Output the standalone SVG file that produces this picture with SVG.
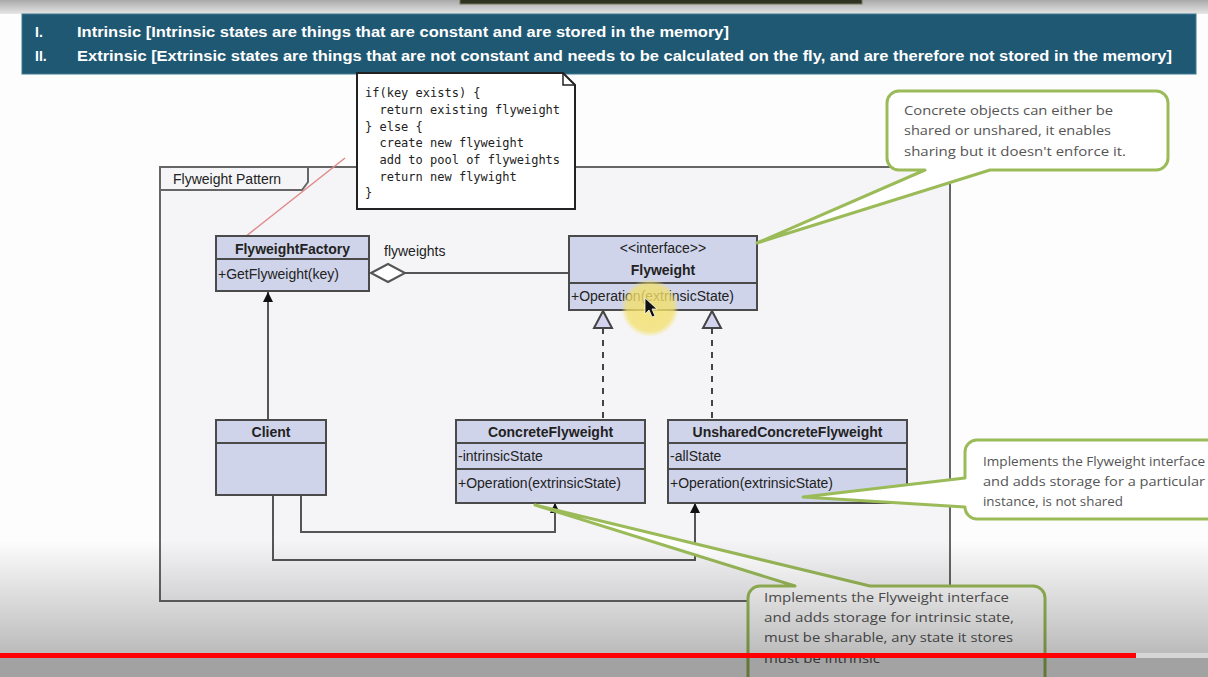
<svg xmlns="http://www.w3.org/2000/svg" width="1208" height="677" viewBox="0 0 1208 677">
<defs>
<linearGradient id="topg" x1="0" y1="0" x2="0" y2="1"><stop offset="0" stop-color="#a9a9a9"/><stop offset="1" stop-color="#e6e6e6"/></linearGradient>
<linearGradient id="botg" x1="0" y1="0" x2="0" y2="1"><stop offset="0" stop-color="#000" stop-opacity="0"/><stop offset="1" stop-color="#000" stop-opacity="0.26"/></linearGradient>
<radialGradient id="halo"><stop offset="0" stop-color="#f3e06a" stop-opacity="0.85"/><stop offset="0.8" stop-color="#f3e06a" stop-opacity="0.75"/><stop offset="1" stop-color="#f3e06a" stop-opacity="0"/></radialGradient>
<marker id="arr" viewBox="0 0 10 10" refX="10" refY="5" markerWidth="10" markerHeight="10" markerUnits="userSpaceOnUse" orient="auto"><path d="M0,0 L10,5 L0,10 Z" fill="#111"/></marker>
<style>
.cls{fill:#d0d4ea;stroke:#4a4a4a;stroke-width:2}
.div{stroke:#4a4a4a;stroke-width:2}
.t{font-family:"Liberation Sans",Arial,sans-serif;font-size:14px;fill:#222}
.b{font-weight:bold}
.mid{text-anchor:middle}
.con{fill:none;stroke:#555;stroke-width:2}
.mono{font-family:"DejaVu Sans Mono","Liberation Mono",monospace;font-size:12px;fill:#222;white-space:pre}
.call{fill:#fff;stroke:#9bbb59;stroke-width:3;stroke-linejoin:round}
.ct{font-family:"Open Sans","Noto Sans",sans-serif;font-size:13px;fill:#555}
.ban{font-family:"Liberation Sans",Arial,sans-serif;font-size:14px;font-weight:bold;fill:#fff}
</style>
</defs>
<rect x="0" y="0" width="1208" height="677" fill="#fdfdfd"/>
<rect x="0" y="0" width="1208" height="14" fill="url(#topg)"/>
<rect x="460" y="-2" width="402" height="6" fill="#2f3322" stroke="#77775a" stroke-width="1"/>
<g id="banner">
<rect x="22" y="14" width="1174" height="60" fill="#1f5873" stroke="#3f7890" stroke-width="1"/>
<text class="ban" x="35" y="37">I.</text>
<text class="ban" x="77" y="37" textLength="652" lengthAdjust="spacingAndGlyphs">Intrinsic [Intrinsic states are things that are constant and are stored in the memory]</text>
<text class="ban" x="35" y="61">II.</text>
<text class="ban" x="77" y="61" textLength="1095" lengthAdjust="spacingAndGlyphs">Extrinsic [Extrinsic states are things that are not constant and needs to be calculated on the fly, and are therefore not stored in the memory]</text>
</g>
<g id="package">
<path d="M308,167 H950 V601 H160 V167 H308 Z" fill="#f5f5f7" stroke="#666" stroke-width="2"/>
<path d="M160,190 H302 L308,182 V167" fill="none" stroke="#666" stroke-width="2"/>
<text class="t" x="173" y="184">Flyweight Pattern</text>
</g>
<g id="note">
<polygon points="357,73 563,73 575,85 575,209 357,209" fill="#fff" stroke="#222" stroke-width="2"/>
<polyline points="563,73 563,85 575,85" fill="none" stroke="#222" stroke-width="1.5"/>
<text class="mono" x="365" y="97" xml:space="preserve">if(key exists) {</text>
<text class="mono" x="365" y="114" xml:space="preserve">  return existing flyweight</text>
<text class="mono" x="365" y="131" xml:space="preserve">} else {</text>
<text class="mono" x="365" y="147" xml:space="preserve">  create new flyweight</text>
<text class="mono" x="365" y="164" xml:space="preserve">  add to pool of flyweights</text>
<text class="mono" x="365" y="181" xml:space="preserve">  return new flywight</text>
<text class="mono" x="365" y="197" xml:space="preserve">}</text>
</g>
<g id="connectors">
<line x1="245" y1="237" x2="345" y2="158" stroke="#e08a8a" stroke-width="1.5"/>
<polygon points="371,273 388,264 405,273 388,282" fill="#fff" stroke="#555" stroke-width="2"/>
<line class="con" x1="405" y1="273" x2="569" y2="273"/>
<text class="t" x="384" y="256">flyweights</text>
<line class="con" x1="268" y1="420" x2="268" y2="292" marker-end="url(#arr)"/>
<polyline class="con" points="301,495 301,532 555,532 555,503" marker-end="url(#arr)"/>
<polyline class="con" points="273,495 273,560 695,560 695,503" marker-end="url(#arr)"/>
<line x1="603" y1="328" x2="603" y2="420" stroke="#444" stroke-width="2" stroke-dasharray="6,6"/>
<line x1="712" y1="328" x2="712" y2="420" stroke="#444" stroke-width="2" stroke-dasharray="6,6"/>
<polygon points="603,311 594,328 612,328" fill="#d3d3f0" stroke="#444" stroke-width="2"/>
<polygon points="712,311 703,328 721,328" fill="#d3d3f0" stroke="#444" stroke-width="2"/>
</g>
<g id="FlyweightFactory">
<rect class="cls" x="216" y="236" width="153" height="55"/>
<line class="div" x1="216" y1="259" x2="369" y2="259"/>
<text class="t b mid" x="292.5" y="254">FlyweightFactory</text>
<text class="t" x="218" y="279">+GetFlyweight(key)</text>
</g>
<g id="Flyweight">
<rect class="cls" x="569" y="236" width="188" height="74"/>
<line class="div" x1="569" y1="283" x2="757" y2="283"/>
<text class="t mid" x="663" y="253" font-size="13">&lt;&lt;interface&gt;&gt;</text>
<text class="t b mid" x="663" y="275">Flyweight</text>
<text class="t" x="571" y="301">+Operation(extrinsicState)</text>
</g>
<g id="Client">
<rect class="cls" x="216" y="420" width="110" height="75"/>
<line class="div" x1="216" y1="443" x2="326" y2="443"/>
<text class="t b mid" x="271" y="437">Client</text>
</g>
<g id="ConcreteFlyweight">
<rect class="cls" x="456" y="420" width="189" height="83"/>
<line class="div" x1="456" y1="443" x2="645" y2="443"/>
<line class="div" x1="456" y1="469" x2="645" y2="469"/>
<text class="t b mid" x="550.5" y="437">ConcreteFlyweight</text>
<text class="t" x="458" y="461">-intrinsicState</text>
<text class="t" x="458" y="488">+Operation(extrinsicState)</text>
</g>
<g id="UnsharedConcreteFlyweight">
<rect class="cls" x="668" y="420" width="239" height="83"/>
<line class="div" x1="668" y1="443" x2="907" y2="443"/>
<line class="div" x1="668" y1="469" x2="907" y2="469"/>
<text class="t b mid" x="787.5" y="437">UnsharedConcreteFlyweight</text>
<text class="t" x="670" y="461">-allState</text>
<text class="t" x="670" y="488">+Operation(extrinsicState)</text>
</g>
<g id="pointer">
<circle cx="650" cy="308" r="29" fill="url(#halo)"/>
<path d="M645,298 L645,314 L649,310 L652,317 L655,316 L652,309 L657,309 Z" fill="#111" stroke="#fff" stroke-width="0.8"/>
</g>
<g id="callout1">
<path class="call" d="M899,91 H1156 A12,12 0 0 1 1168,103 V158 A12,12 0 0 1 1156,170 H990 L757,243 L925,170 H899 A12,12 0 0 1 887,158 V103 A12,12 0 0 1 899,91 Z"/>
<text class="ct" x="904" y="115" textLength="209" lengthAdjust="spacingAndGlyphs">Concrete objects can either be</text>
<text class="ct" x="904" y="135" textLength="207" lengthAdjust="spacingAndGlyphs">shared or unshared, it enables</text>
<text class="ct" x="904" y="156" textLength="222" lengthAdjust="spacingAndGlyphs">sharing but it doesn't enforce it.</text>
</g>
<g id="callout2">
<path class="call" d="M977,440 H1222 V519 H977 A12,12 0 0 1 965,507 L803,497 L965,478 V452 A12,12 0 0 1 977,440 Z"/>
<text class="ct" x="983" y="466" textLength="222" lengthAdjust="spacingAndGlyphs">Implements the Flyweight interface</text>
<text class="ct" x="983" y="486" textLength="222" lengthAdjust="spacingAndGlyphs">and adds storage for a particular</text>
<text class="ct" x="983" y="506" textLength="140" lengthAdjust="spacingAndGlyphs">instance, is not shared</text>
</g>
<g id="callout3">
<path class="call" d="M760,586 H795 L535,505 L870,586 H1033 A12,12 0 0 1 1045,598 V700 H748 V598 A12,12 0 0 1 760,586 Z"/>
<text class="ct" x="764" y="602" textLength="245" lengthAdjust="spacingAndGlyphs">Implements the Flyweight interface</text>
<text class="ct" x="764" y="622" textLength="250" lengthAdjust="spacingAndGlyphs">and adds storage for intrinsic state,</text>
<text class="ct" x="764" y="642" textLength="249" lengthAdjust="spacingAndGlyphs">must be sharable, any state it stores</text>
<text class="ct" x="764" y="663" textLength="116" lengthAdjust="spacingAndGlyphs">must be intrinsic</text>
</g>
<g id="player">
<rect x="0" y="540" width="1208" height="113" fill="url(#botg)"/>
<rect x="0" y="653" width="1208" height="24" fill="#000" fill-opacity="0.36"/>
<rect x="0" y="653" width="1136" height="5" fill="#f00"/>
<rect x="1136" y="653" width="72" height="5" fill="#d6d6d6"/>
</g>
</svg>
